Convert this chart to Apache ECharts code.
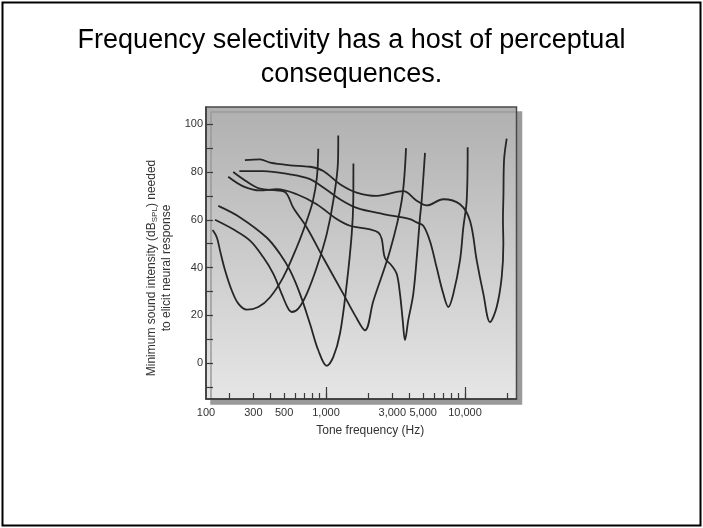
<!DOCTYPE html>
<html>
<head>
<meta charset="utf-8">
<script src="https://cdn.jsdelivr.net/npm/echarts@6/dist/echarts.min.js"></script>
<style>
html,body{margin:0;padding:0;background:#fff;}
#c{width:703px;height:528px;}
</style>
</head>
<body>
<div id="c"></div>
<script>
// Tuning curves: tone frequency (Hz) and threshold (dB SPL)
const aFreq = [153,164,173,188,210,234,269,326,396,493,616,727,806,861,880];
const aDb   = [55.7,52.6,47,38.8,30.4,24.9,22.4,23.5,27.6,36,48.5,59.6,68,78,89.7];

const bFreq = [159,215,284,354,418,480,535,567,632,727,857,1012,1129,1220,1225];
const bDb   = [60,56,51.3,44.3,37.4,29,22.8,21.4,22.8,29,40,54,68,84.6,95.3];

const cFreq = [168,241,374,467,551,650,767,880,1012,1129,1261,1409,1531,1571,1575];
const cDb   = [65.8,61,52.6,45.7,38.8,29,16.5,5.4,-1.1,2.6,12.4,33,54,68,83.6];

const dFreq = [215,269,335,442,515,582,727,957,1332,1617,1908,2190,2886,3505,3764];
const dDb   = [80,76,73,72.3,71.3,65,56.8,44,29,20,13.75,26,47,68,90];

const eFreq = [198,254,335,442,616,857,1194,1488,2073,2379,2518,2656,2970,3226,3406,3563,3700,3908,4246,4539,4744,4878,5156];
const eDb   = [78,74,72.3,72.8,70.7,66.5,60.3,57.5,56,54.7,52,44,40.8,37.4,29,18,9.6,18,29,47,61,68,88];

const fFreq = [238,354,551,767,957,1261,1663,2584,4022,4494,5012,5600,6254,6982,7586,8241,9204,9727,10282,10453];
const fDb   = [80.4,80.4,79,77,73.5,68.6,65,62.4,60.3,58.9,57.5,51,40,29,23.5,29,43,56.8,68,90.4];

const gFreq = [261,335,396,551,767,957,1261,1663,2317,3597,4494,5300,6982,9204,10864,12139,13554,15136,16904,18365,18877,18750,18900,19081,19953];
const gDb   = [85,85.3,83.9,82.8,82.2,80.4,74.9,71.4,70,72,68,66,68.6,66.5,59.6,43,29,17.2,23.5,36,50,60,70,84.6,94];

// Axis ticks and labels
const xMinorTicks = [200,300,400,500,600,700,800,900,1000,2000,3000,4000,5000,6000,7000,8000,9000,10000,20000];
const xMajorTicks = [1000,10000];
const xLabelFreqs = [100,300,500,1000,3000,5000,10000];
const xLabelTexts = ['100','300','500','1,000','3,000','5,000','10,000'];
const yTicks  = [-10,0,10,20,30,40,50,60,70,80,90,100];
const yLabels = [0,20,40,60,80,100];

const xMin = 2.1367, xMax = 4.3705;
const lg = f => Math.log10(f);
const xLabelPos = xLabelFreqs.map(f => Math.max(lg(f), xMin));

const curves = [[aFreq,aDb],[bFreq,bDb],[cFreq,cDb],[dFreq,dDb],[eFreq,eDb],[fFreq,fDb],[gFreq,gDb]];

const chart = echarts.init(document.getElementById('c'), null, {renderer:'canvas'});
const axisColor = '#3a3a3a';
const FONT = 'Liberation Sans, Arial, sans-serif';
chart.setOption({
  animation: false,
  backgroundColor: '#ffffff',
  title: {
    text: 'Frequency selectivity has a host of perceptual\nconsequences.',
    left: 'center', top: 19,
    textStyle: {fontFamily:FONT, fontSize:27, fontWeight:'normal', color:'#000', lineHeight:34, align:'center'}
  },
  graphic: [{
    type:'rect', silent:true, z:-10,
    shape:{x:2.5,y:2.5,width:698,height:523},
    style:{fill:'none', stroke:'#000', lineWidth:2}
  }],
  grid: {
    left: 206, right: 186.5, top: 107, bottom: 129,
    show: true,
    backgroundColor: new echarts.graphic.LinearGradient(0,0,0,1,[
      {offset:0,color:'#b0b0b0'},{offset:1,color:'#e6e6e6'}
    ]),
    borderColor: '#4a4a4a', borderWidth: 1.5,
    shadowColor: '#9a9a9a', shadowBlur: 0, shadowOffsetX: 5, shadowOffsetY: 5
  },
  xAxis: [{
    type:'value', min:xMin, max:xMax, position:'bottom',
    name:'Tone frequency (Hz)', nameLocation:'middle', nameGap:26,
    nameTextStyle:{fontFamily:FONT, fontSize:12, color:'#333', padding:[0,0,0,18]},
    axisLine:{show:true, onZero:false, lineStyle:{color:axisColor, width:1.5}},
    axisTick:{show:true, inside:true, length:6, customValues: xMinorTicks.map(lg), lineStyle:{color:axisColor, width:1.2}},
    axisLabel:{show:true, margin:8, fontFamily:FONT, fontSize:11, color:'#333',
      customValues: xLabelPos,
      formatter: v => { let bi=0, bd=1e9; xLabelPos.forEach((p,i)=>{const d=Math.abs(p-v); if(d<bd){bd=d;bi=i;}}); return xLabelTexts[bi]; }},
    splitLine:{show:false}
  },{
    type:'value', min:xMin, max:xMax, position:'bottom',
    axisLine:{show:false, onZero:false},
    axisTick:{show:true, inside:true, length:12, customValues: xMajorTicks.map(lg), lineStyle:{color:axisColor, width:1.2}},
    axisLabel:{show:false},
    splitLine:{show:false}
  }],
  yAxis: {
    type:'value', min:-15, max:107.2,
    name:'{a|Minimum sound intensity (dB}{s|SPL}{a|) needed}\n{a|to elicit neural response}',
    nameLocation:'middle', nameGap:32,
    nameTextStyle:{fontFamily:FONT, fontSize:12, color:'#333', padding:[0,30,0,0],
      rich:{
        a:{fontFamily:FONT, fontSize:12, color:'#333', lineHeight:15},
        s:{fontFamily:FONT, fontSize:8, color:'#333', lineHeight:9, verticalAlign:'bottom'}
      }},
    axisLine:{show:true, onZero:false, lineStyle:{color:axisColor, width:1.5}},
    axisTick:{show:true, inside:true, length:7, customValues:yTicks, lineStyle:{color:axisColor, width:1.2}},
    axisLabel:{show:true, margin:3, fontFamily:FONT, fontSize:11, color:'#333', customValues:yLabels},
    splitLine:{show:false}
  },
  series: curves.map(([fr,db]) => ({
    type:'line', xAxisIndex:0, yAxisIndex:0,
    data: fr.map((f,i)=>[lg(f), db[i]]),
    showSymbol:false, symbol:'none', smooth:0.35, silent:true,
    lineStyle:{color:'#262626', width:1.8},
    clip:true
  }))
});
</script>
</body>
</html>
